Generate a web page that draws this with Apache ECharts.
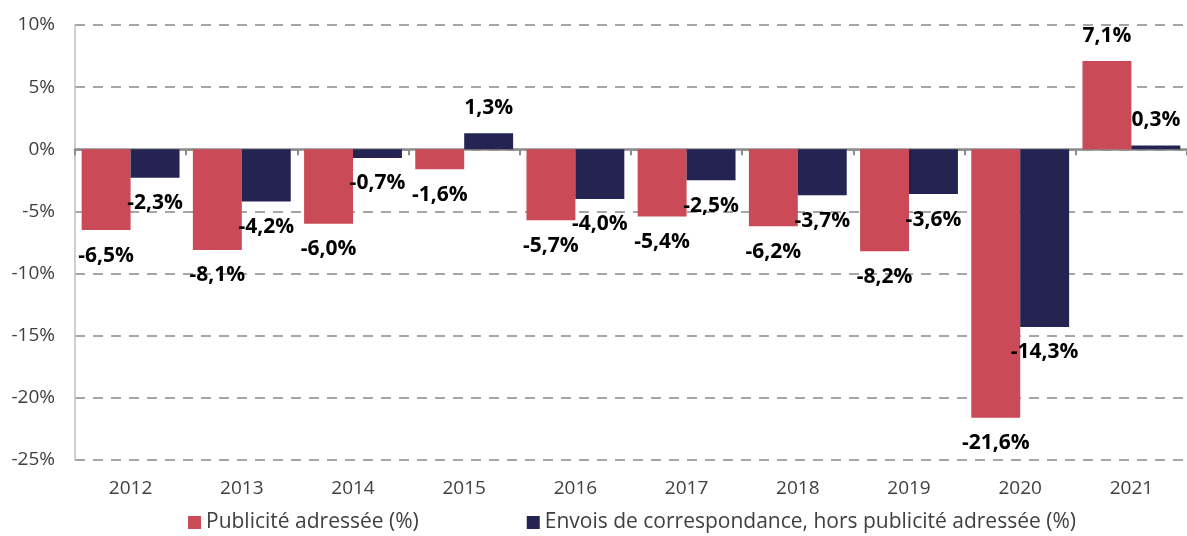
<!DOCTYPE html>
<html><head><meta charset="utf-8">
<script src="https://cdn.jsdelivr.net/npm/echarts@6/dist/echarts.min.js"></script>
<style>html,body{margin:0;padding:0;background:#fff}#c{width:1187px;height:536px}</style>
</head><body><div id="c"></div>
<script>
var categories = ['2012','2013','2014','2015','2016','2017','2018','2019','2020','2021'];
var seriesNames = ['Publicité adressée (%)', 'Envois de correspondance, hors publicité adressée (%)'];
var pubValues = [-6.5, -8.1, -6.0, -1.6, -5.7, -5.4, -6.2, -8.2, -21.6, 7.1];
var corrValues = [-2.3, -4.2, -0.7, 1.3, -4.0, -2.5, -3.7, -3.6, -14.3, 0.3];
var yTicks = {min: -25, max: 10, interval: 5};

var FONT = '"Open Sans", sans-serif';
function fmt(v){ return v.toFixed(1).replace('.', ',') + '%'; }
function items(arr){
  return arr.map(function(v){
    return {value: v, label: {position: v < 0 ? 'bottom' : 'top'}};
  });
}
var labelStyle = {show: true, distance: 15, fontFamily: FONT, fontWeight: 'bold', fontSize: 21, color: '#000',
  formatter: function(p){ return fmt(p.value); }};

var chart = echarts.init(document.getElementById('c'), null, {renderer: 'canvas'});
chart.setOption({
  animation: false,
  grid: {left: 75, right: 0, top: 25, bottom: 76, containLabel: false},
  legend: {
    bottom: -2, left: 183, icon: 'rect', itemWidth: 13, itemHeight: 13, itemGap: 108,
    textStyle: {fontFamily: FONT, fontSize: 21, color: '#404040'},
    data: seriesNames
  },
  xAxis: [{
    type: 'category', data: categories,
    axisLine: {onZero: true, lineStyle: {color: '#8c8c8c', width: 2.5}},
    axisTick: {show: true, length: 6, lineStyle: {color: '#8c8c8c', width: 2}},
    axisLabel: {show: false}
  }, {
    type: 'category', data: categories, position: 'bottom',
    axisLine: {show: false, onZero: false},
    axisTick: {show: false},
    axisLabel: {fontFamily: FONT, fontSize: 19, color: '#404040', margin: 19}
  }],
  yAxis: {
    type: 'value', min: yTicks.min, max: yTicks.max, interval: yTicks.interval,
    axisLine: {show: true, lineStyle: {color: '#bfbfbf', width: 1.5}},
    axisTick: {show: false},
    axisLabel: {fontFamily: FONT, fontSize: 19, color: '#404040', margin: 20,
      formatter: '{value}%'},
    splitLine: {show: true, lineStyle: {color: '#a6a6a6', width: 2, type: [10, 8]}}
  },
  series: [
    {name: seriesNames[0], type: 'bar', xAxisIndex: 0, data: items(pubValues), barGap: '0%', barCategoryGap: '12%',
      itemStyle: {color: '#cb4a57'}, label: labelStyle},
    {name: seriesNames[1], type: 'bar', xAxisIndex: 0, data: items(corrValues), barGap: '0%', barCategoryGap: '12%',
      itemStyle: {color: '#252352'}, label: labelStyle}
  ]
});
</script></body></html>
